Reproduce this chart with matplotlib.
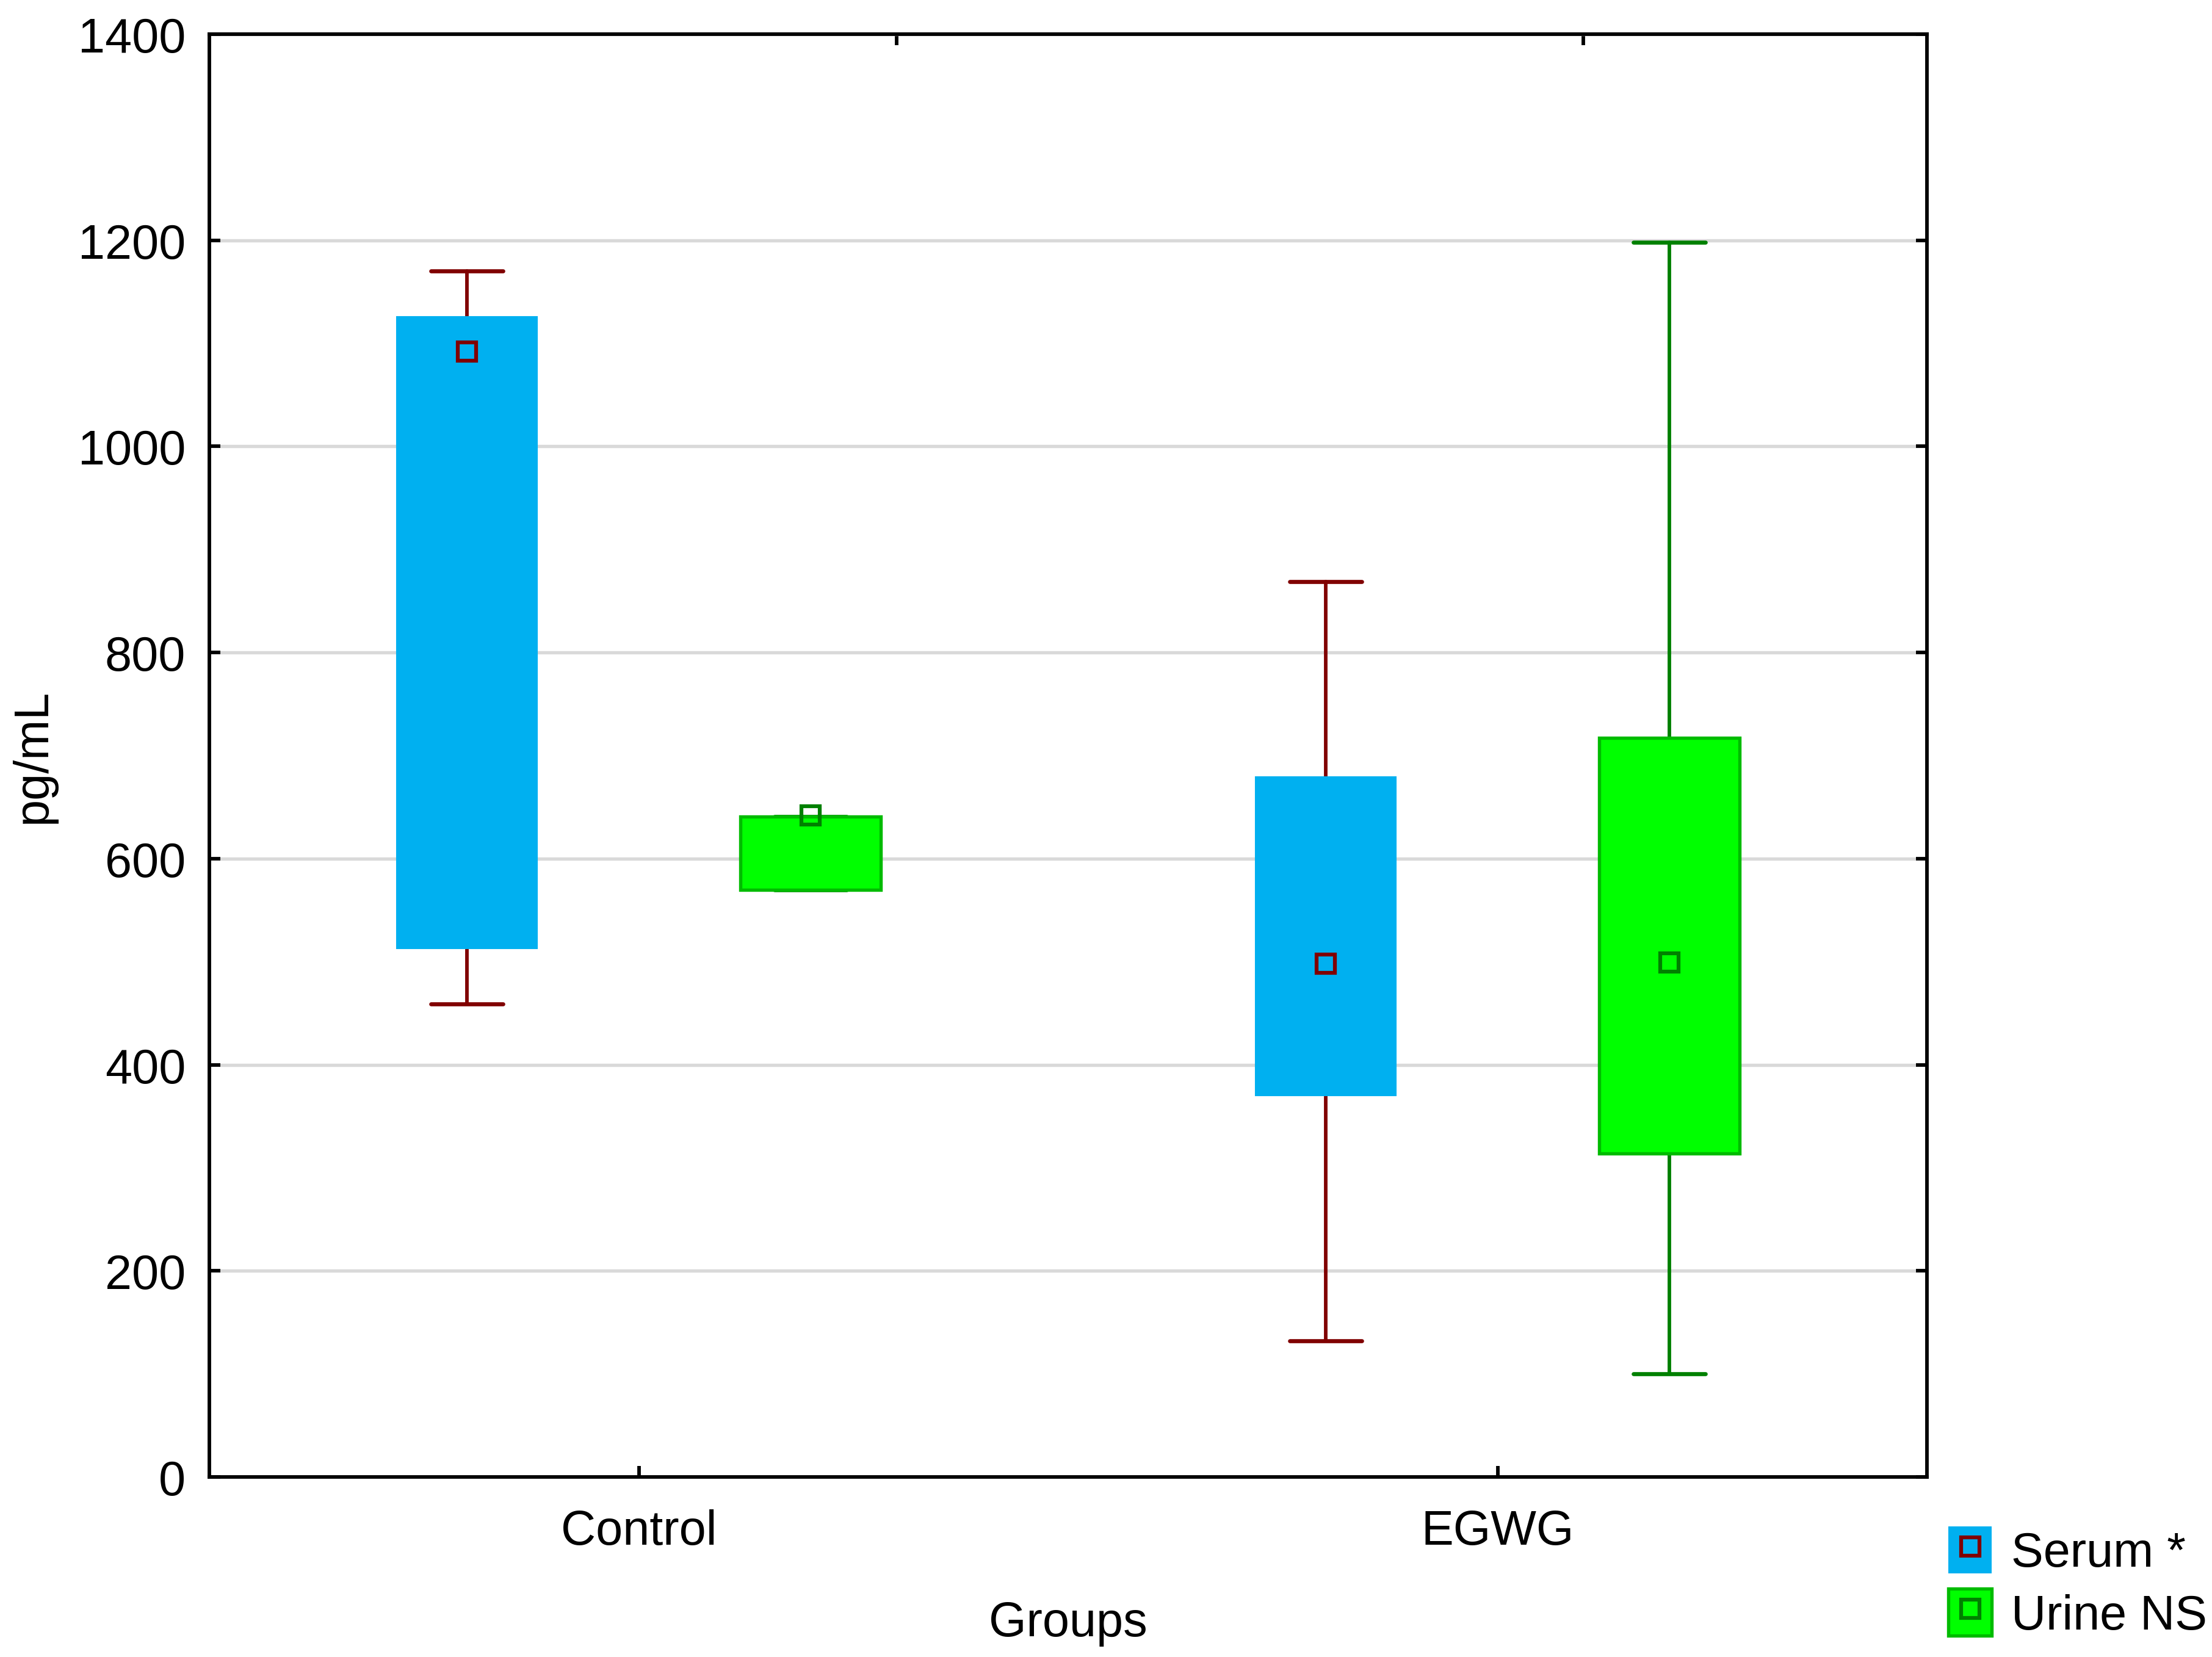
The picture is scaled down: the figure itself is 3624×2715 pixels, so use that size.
import matplotlib
matplotlib.use("Agg")
import matplotlib.pyplot as plt
from matplotlib.patches import Patch
from matplotlib.lines import Line2D
from matplotlib.legend_handler import HandlerTuple

plt.rcParams['font.family'] = ['Liberation Sans', 'DejaVu Sans']

# ---- data ----
categories = ["Control", "EGWG"]
serum_mean = [1092, 498]
serum_q1 = [513, 370]
serum_q3 = [1126, 679]
serum_min = [459, 132]
serum_max = [1170, 869]

urine_mean = [642, 499]
urine_q1 = [570, 314]
urine_q3 = [641, 717]
urine_min = [570, 100]
urine_max = [641, 1198]

series_labels = ["Serum *", "Urine NS"]
yticks = [0, 200, 400, 600, 800, 1000, 1200, 1400]

# ---- style ----
SERUM_FILL = "#00B0F0"
SERUM_LINE = "#800000"
URINE_FILL = "#00FF00"
URINE_EDGE = "#00BB00"
URINE_LINE = "#008000"
FS = 19

fig = plt.figure(figsize=(12.08, 9.0533), dpi=300)
ax = fig.add_axes([0.09465, 0.10862, 0.77649, 0.87040])

def stats(q1, q3, lo, hi, mean):
    return [dict(med=(a + b) / 2, q1=a, q3=b, whislo=l, whishi=h, mean=m, fliers=[])
            for a, b, l, h, m in zip(q1, q3, lo, hi, mean)]

base = [1, 2]
offset = 0.2
bw = 0.164
cw = 0.084

def draw(st, pos, fill, edge, line, edge_lw):
    ax.bxp(st, positions=pos, widths=bw, capwidths=cw, patch_artist=True,
           showmeans=True, showfliers=False, manage_ticks=False,
           boxprops=dict(facecolor=fill, edgecolor=edge, linewidth=edge_lw, zorder=3),
           whiskerprops=dict(color=line, linewidth=1.4, zorder=2, solid_capstyle='round'),
           capprops=dict(color=line, linewidth=1.6, zorder=2, solid_capstyle='round'),
           medianprops=dict(linewidth=0),
           meanprops=dict(marker='s', markersize=7.2, markerfacecolor='none',
                          markeredgecolor=line, markeredgewidth=1.5, zorder=4))

draw(stats(serum_q1, serum_q3, serum_min, serum_max, serum_mean),
     [b - offset for b in base], SERUM_FILL, SERUM_FILL, SERUM_LINE, 0.5)
draw(stats(urine_q1, urine_q3, urine_min, urine_max, urine_mean),
     [b + offset for b in base], URINE_FILL, URINE_EDGE, URINE_LINE, 1.3)

ax.set_xlim(0.5, 2.5)
ax.set_ylim(0, 1400)
ax.set_xticks(base)
ax.set_xticklabels(categories)
ax.set_yticks(yticks)
ax.yaxis.grid(True, color="#D9D9D9", linewidth=1.3, zorder=0)
ax.set_axisbelow(True)

for s in ax.spines.values():
    s.set_linewidth(1.4)
    s.set_color("black")

ax.tick_params(axis='y', direction='in', length=4.3, width=1.4, labelsize=FS,
               pad=9.3, right=True)
ax.tick_params(axis='x', direction='in', length=4.3, width=1.4, labelsize=FS,
               pad=12.5)

top = ax.secondary_xaxis('top', functions=(lambda x: (x - 0.5) / 2.0, lambda f: f * 2.0 + 0.5))
top.set_xticks([0.4, 0.8])
top.set_xticklabels([])
top.tick_params(direction='in', length=4.3, width=1.4)
top.spines['top'].set_linewidth(1.4)

ax.set_xlabel("Groups", fontsize=FS, labelpad=18)
ax.set_ylabel("pg/mL", fontsize=FS, labelpad=8.6)

# ---- legend ----
h1 = (Patch(facecolor=SERUM_FILL, edgecolor=SERUM_FILL, linewidth=0),
      Line2D([], [], linestyle='none', marker='s', markersize=7.2, markerfacecolor='none',
             markeredgecolor=SERUM_LINE, markeredgewidth=1.5))
h2 = (Patch(facecolor=URINE_FILL, edgecolor=URINE_EDGE, linewidth=1.3),
      Line2D([], [], linestyle='none', marker='s', markersize=7.2, markerfacecolor='none',
             markeredgecolor=URINE_LINE, markeredgewidth=1.5))
fig.legend([h1, h2], series_labels, handler_map={tuple: HandlerTuple(ndivide=1, pad=0)},
           loc='upper left', bbox_to_anchor=(3192 / 3624, 1 - 2502 / 2716),
           frameon=False, fontsize=FS, borderpad=0, borderaxespad=0,
           handlelength=0.9, handleheight=1.12, handletextpad=0.4, labelspacing=0.25)

fig.savefig("out.png", dpi=300)
